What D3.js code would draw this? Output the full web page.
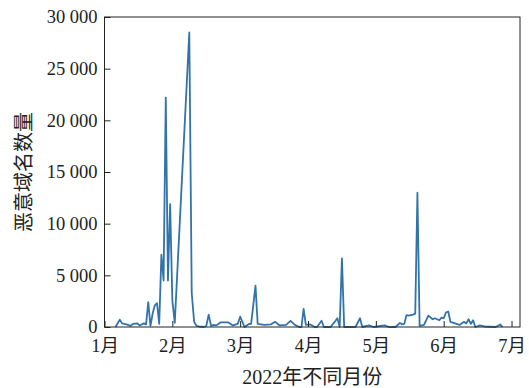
<!DOCTYPE html>
<html>
<head>
<meta charset="utf-8">
<script src="https://cdn.jsdelivr.net/npm/d3@7"></script>
<style>
  body { margin: 0; background: #fff; }
  svg { display: block; }
  text { font-family: "Liberation Serif", "Times New Roman", "Noto Sans CJK SC", serif; fill: #222; }
</style>
</head>
<body>
<script>
// dates are "M-D" in 2022; each month gets the same width on the axis
const dates = [
  "1-6", "1-8", "1-9", "1-11", "1-13", "1-14", "1-16", "1-17", "1-19", "1-20",
  "1-21", "1-22", "1-23", "1-24", "1-25", "1-26", "1-27", "1-28", "1-29", "1-30", "1-31",
  "2-1", "2-2", "2-8", "2-9", "2-10", "2-11", "2-12", "2-14", "2-15", "2-16", "2-17",
  "2-18", "2-19", "2-20", "2-21", "2-24", "2-26", "2-28",
  "3-1", "3-3", "3-5", "3-6", "3-8", "3-9", "3-12", "3-15", "3-17", "3-19", "3-22",
  "3-24", "3-26", "3-28", "3-29", "3-30", "3-31",
  "4-2", "4-4", "4-5", "4-7", "4-8", "4-11", "4-14", "4-15", "4-16", "4-17", "4-20",
  "4-22", "4-24", "4-25", "4-28", "4-30",
  "5-5", "5-7", "5-10", "5-12", "5-13", "5-14", "5-15", "5-16", "5-18", "5-19", "5-20",
  "5-21", "5-23", "5-25", "5-27", "5-28", "5-30", "5-31",
  "6-1", "6-2", "6-3", "6-4", "6-6", "6-8", "6-10", "6-11", "6-12", "6-13", "6-14",
  "6-15", "6-17", "6-19", "6-24", "6-26", "6-27"
];
const counts = [
  0, 700, 350, 250, 100, 300, 350, 150, 350, 250,
  2400, 100, 1300, 2100, 2300, 300, 7000, 4500, 22200, 4500, 11900,
  2600, 400, 28500, 3300, 500, 100, 50, 0, 100, 1200, 100,
  200, 150, 300, 450, 450, 150, 300,
  1000, 0, 300, 300, 4000, 300, 200, 250, 500, 150, 200,
  600, 200, 0, 0, 1750, 200,
  250, 0, 0, 600, 0, 0, 850, 0, 6650, 0, 0,
  0, 850, 0, 150, 0,
  150, 0, 0, 400, 250, 300, 1150, 1100, 1200, 1300, 13000,
  100, 200, 1100, 750, 850, 650, 900,
  850, 1400, 1500, 500, 350, 200, 500, 350, 750, 300, 650,
  0, 150, 50, 0, 250, 0
];
const months = [1, 2, 3, 4, 5, 6, 7];
const yTicks = [0, 5000, 10000, 15000, 20000, 25000, 30000];
const xTitle = "2022年不同月份";
const yTitle = "恶意域名数量";

const width = 529, height = 388;
const margin = { top: 17, right: 9, bottom: 61, left: 104.5 };

const daysIn = m => new Date(2022, m, 0).getDate();
const monthPos = s => {
  const [m, d] = s.split("-").map(Number);
  return m + (d - 1) / daysIn(m);
};

const data = dates.map((s, i) => ({ t: monthPos(s), v: counts[i] }));

const x = d3.scaleLinear()
  .domain([1, 7.125])
  .range([margin.left, width - margin.right]);
const y = d3.scaleLinear()
  .domain([0, 30000])
  .range([height - margin.bottom, margin.top]);

const svg = d3.select("body").append("svg")
  .attr("width", width)
  .attr("height", height);

const fmt = d => d === 0 ? "0" : d3.format(",")(d).replace(",", " ");

svg.append("path")
  .datum(data)
  .attr("fill", "none")
  .attr("stroke", "#3273a9")
  .attr("stroke-width", 1.8)
  .attr("stroke-linejoin", "round")
  .attr("d", d3.line().x(d => x(d.t)).y(d => y(d.v)));

// frame
svg.append("rect")
  .attr("x", x.range()[0])
  .attr("y", margin.top)
  .attr("width", x.range()[1] - x.range()[0])
  .attr("height", y.range()[0] - margin.top)
  .attr("fill", "none")
  .attr("stroke", "#222")
  .attr("stroke-width", 1);

const gx = svg.append("g")
  .attr("transform", `translate(0,${y.range()[0]})`)
  .call(d3.axisBottom(x)
    .tickValues(months)
    .tickSizeInner(-6)
    .tickSizeOuter(0)
    .tickPadding(12)
    .tickFormat(d => d + "月"));

const gy = svg.append("g")
  .attr("transform", `translate(${margin.left},0)`)
  .call(d3.axisLeft(y)
    .tickValues(yTicks)
    .tickSizeInner(-6)
    .tickSizeOuter(0)
    .tickPadding(7)
    .tickFormat(fmt));

[gx, gy].forEach(g => {
  g.select(".domain").remove();
  g.selectAll("line").attr("stroke", "#222");
  g.selectAll("text").attr("font-size", 18.5).attr("fill", "#222");
});

svg.append("text")
  .attr("x", (x.range()[0] + x.range()[1]) / 2)
  .attr("y", 384)
  .attr("text-anchor", "middle")
  .attr("font-size", 20)
  .text(xTitle);

svg.append("text")
  .attr("transform", `translate(31,${(y.range()[0] + margin.top) / 2}) rotate(-90)`)
  .attr("text-anchor", "middle")
  .attr("font-size", 20)
  .text(yTitle);
</script>
</body>
</html>
